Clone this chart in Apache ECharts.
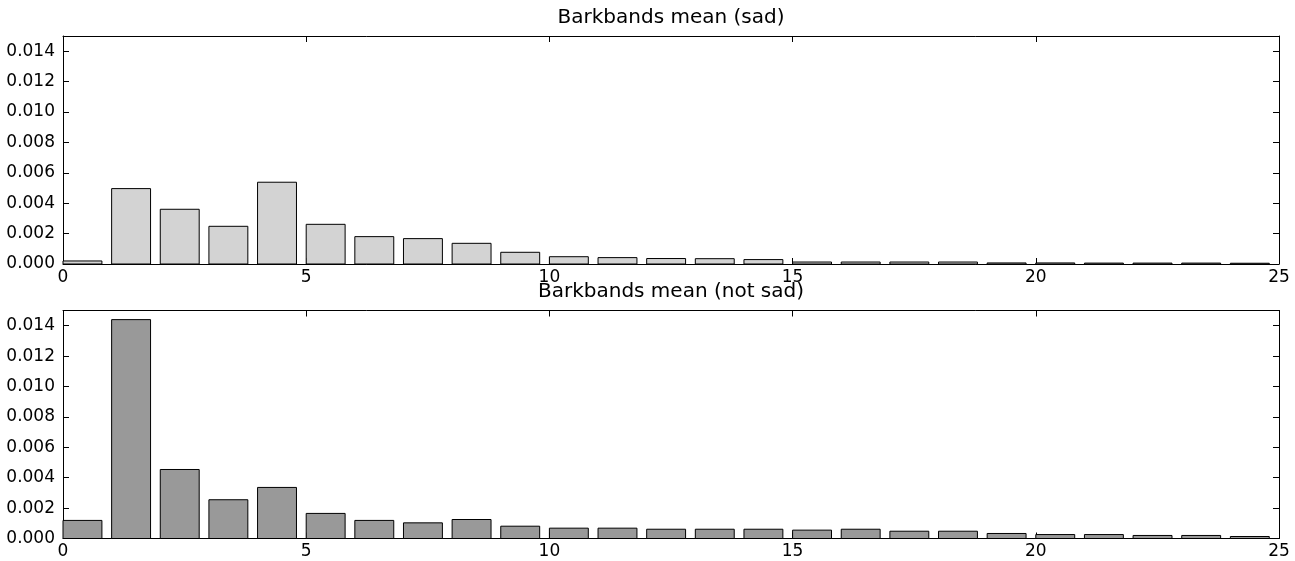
<!DOCTYPE html>
<html>
<head>
<meta charset="utf-8">
<title>Barkbands mean</title>
<script src="https://cdn.jsdelivr.net/npm/echarts@6/dist/echarts.min.js"></script>
<style>
  html, body { margin: 0; padding: 0; background: #fff; }
  #chart { width: 1295px; height: 561px; }
</style>
</head>
<body>
<div id="chart"></div>
<script>
// band index 0..24, one bar per band
var bands = [0, 1, 2, 3, 4, 5, 6, 7, 8, 9, 10, 11, 12, 13, 14, 15, 16, 17, 18, 19, 20, 21, 22, 23, 24];
var sadMean = [0.0002, 0.00496, 0.0036, 0.00248, 0.00538, 0.00261, 0.0018, 0.00167, 0.00136, 0.00077,
  0.00048, 0.00042, 0.00036, 0.00035, 0.00029, 0.00013, 0.00013, 0.00013, 0.00013, 0.00007,
  0.00007, 0.00006, 0.00006, 0.00006, 0.00005];
var notSadMean = [0.00119, 0.0144, 0.00454, 0.00255, 0.00336, 0.00165, 0.00119, 0.00103, 0.00125, 0.00081,
  0.00068, 0.00068, 0.00061, 0.00061, 0.00061, 0.00055, 0.00061, 0.00048, 0.00048, 0.00033,
  0.00026, 0.00026, 0.0002, 0.0002, 0.00013];
var titles = ["Barkbands mean (sad)", "Barkbands mean (not sad)"];

var FONT = "DejaVu Sans";
var BAR_W = 0.8;

function barItem(fill) {
  return function (params, api) {
    var x = api.value(0);
    var v = api.value(1);
    var p0 = api.coord([x, v]);
    var p1 = api.coord([x + BAR_W, 0]);
    return {
      type: "rect",
      shape: { x: p0[0], y: p0[1], width: p1[0] - p0[0], height: p1[1] - p0[1] },
      style: { fill: fill, stroke: "#000", lineWidth: 1 }
    };
  };
}

function xAxes(gridIndex) {
  var base = {
    gridIndex: gridIndex,
    type: "value",
    min: 0,
    max: 25,
    interval: 5,
    splitLine: { show: false },
    axisLine: { show: true, onZero: false, lineStyle: { color: "#000", width: 1 } },
    axisTick: { show: true, inside: true, length: 6, lineStyle: { color: "#000" } }
  };
  return [
    Object.assign({}, base, {
      position: "bottom",
      axisLabel: { show: true, color: "#000", fontFamily: FONT, fontSize: 17, margin: 5 }
    }),
    Object.assign({}, base, { position: "top", axisLabel: { show: false } })
  ];
}

function yAxes(gridIndex) {
  var base = {
    gridIndex: gridIndex,
    type: "value",
    min: 0,
    max: 0.015,
    interval: 0.002,
    splitLine: { show: false },
    axisLine: { show: true, onZero: false, lineStyle: { color: "#000", width: 1 } },
    axisTick: { show: true, inside: true, length: 6, lineStyle: { color: "#000" } }
  };
  return [
    Object.assign({}, base, {
      position: "left",
      axisLabel: {
        show: true, color: "#000", fontFamily: FONT, fontSize: 17, margin: 8,
        formatter: function (v) { return v > 0.0145 ? "" : v.toFixed(3); }
      }
    }),
    Object.assign({}, base, { position: "right", axisLabel: { show: false } })
  ];
}

var chart = echarts.init(document.getElementById("chart"), null, { renderer: "canvas" });

var option = {
  animation: false,
  backgroundColor: "#fff",
  grid: [
    { left: 63, right: 16, top: 36, height: 228 },
    { left: 63, right: 16, top: 310.5, height: 228 }
  ],
  xAxis: xAxes(0).concat(xAxes(1)),
  yAxis: yAxes(0).concat(yAxes(1)),
  graphic: [
    {
      type: "text", x: 671, y: 18,
      style: { text: titles[0], fontFamily: FONT, fontSize: 20, fill: "#000", align: "center", verticalAlign: "middle" }
    },
    {
      type: "text", x: 671, y: 292,
      style: { text: titles[1], fontFamily: FONT, fontSize: 20, fill: "#000", align: "center", verticalAlign: "middle" }
    }
  ],
  series: [
    {
      type: "custom",
      xAxisIndex: 0,
      yAxisIndex: 0,
      renderItem: barItem("#d3d3d3"),
      encode: { x: 0, y: 1 },
      data: bands.map(function (b, i) { return [b, sadMean[i]]; })
    },
    {
      type: "custom",
      xAxisIndex: 2,
      yAxisIndex: 2,
      renderItem: barItem("#999999"),
      encode: { x: 0, y: 1 },
      data: bands.map(function (b, i) { return [b, notSadMean[i]]; })
    }
  ]
};

chart.setOption(option);
</script>
</body>
</html>
